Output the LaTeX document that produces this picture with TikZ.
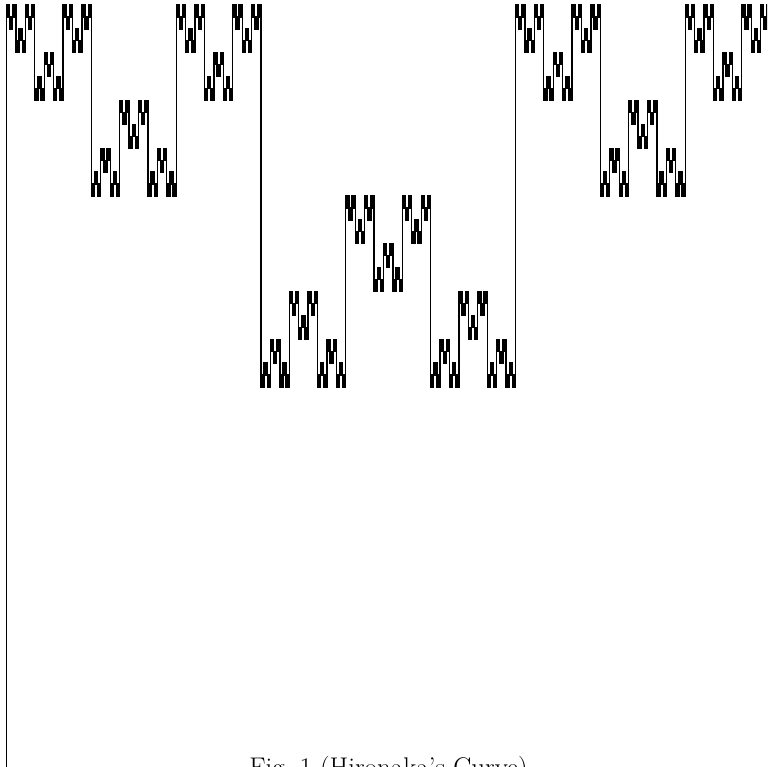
\documentclass[tikz,border=0pt]{standalone}
\usetikzlibrary{calc}
\tikzset{
  curve/.style={line width=1.3pt,line join=miter,black},
  figcap/.style={font=\fontsize{27}{32}\selectfont,inner sep=0pt,anchor=base},
}
% one block of the curve:
% #1 depth, #2 left x, #3 top, #4 flip (0 = V, 1 = upside down), #5 width, #6 height
\def\hirostep#1#2#3#4#5#6{%
  \ifnum#1=0\relax
    \xdef\hiropath{\unexpanded\expandafter{\hiropath}
      -- (#2,\the\numexpr#3+#4\relax) -- (\the\numexpr#2+1\relax,\the\numexpr#3+#4\relax)}%
  \else
    \edef\hironext{%
      \noexpand\hirostep{\the\numexpr#1-1\relax}{#2}{\the\numexpr#3+#6/2*#4\relax}{#4}%
        {\the\numexpr#5/3\relax}{\the\numexpr#6/2\relax}%
      \noexpand\hirostep{\the\numexpr#1-1\relax}{\the\numexpr#2+#5/3\relax}%
        {\the\numexpr#3+#6/2*(1-#4)\relax}{\the\numexpr1-#4\relax}%
        {\the\numexpr#5/3\relax}{\the\numexpr#6/2\relax}%
      \noexpand\hirostep{\the\numexpr#1-1\relax}{\the\numexpr#2+2*#5/3\relax}%
        {\the\numexpr#3+#6/2*#4\relax}{#4}%
        {\the\numexpr#5/3\relax}{\the\numexpr#6/2\relax}}%
    \expandafter\hironext
  \fi}

\begin{document}
\begin{tikzpicture}[x=1pt,y=-1pt]
  \useasboundingbox (0,0) rectangle (767,767);
  \clip (0,0) rectangle (767,767);
  % --- the curve, 7 levels deep ---
  \def\hiropath{(0,260)}
  \hirostep{7}{0}{0}{0}{2187}{128}
  \begin{scope}[shift={(6.5,5)},x=0.349108pt,y=-2.984375pt]
    \draw[curve] \hiropath;
  \end{scope}
  % --- caption, cut by the lower edge ---
  \node[figcap] (cap) at (388.5,776.5) {Fig.~1 (Hironaka's Curve)};
\end{tikzpicture}
\end{document}
